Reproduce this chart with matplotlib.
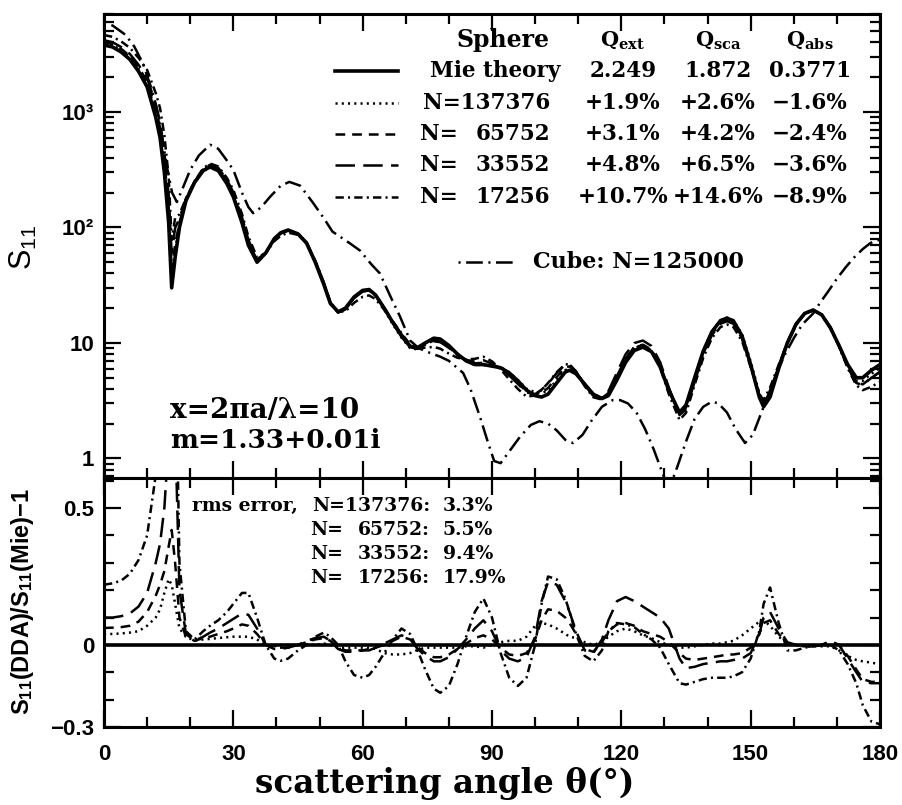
import numpy as np
import matplotlib.pyplot as plt
from matplotlib.lines import Line2D
from matplotlib.ticker import FixedLocator, MultipleLocator, LogLocator, NullFormatter

plt.rcParams['font.family'] = 'DejaVu Serif'
plt.rcParams['mathtext.fontset'] = 'dejavuserif'
plt.rcParams['lines.scale_dashes'] = False

# common angle grid (degrees) for Mie and the DDA relative errors
theta = [0, 2, 4, 6, 8, 10, 12, 13, 14, 15,
         15.7, 16.5, 17.5, 19, 21, 23, 24.6, 26.5, 28.5, 30,
         32, 33.5, 35.5, 37.5, 39.5, 41, 42.7, 45, 47, 49,
         51, 52.5, 54.3, 56, 58, 60, 61.5, 63, 65, 67,
         69, 71, 72.5, 74.5, 76.5, 78, 80, 82, 84, 86,
         88, 90, 92, 94, 96, 98, 100, 101.5, 103, 105,
         107, 108, 109.5, 111.5, 113.5, 115.5, 117, 119, 121, 123,
         125, 127, 129, 131, 133.5, 135, 137, 139, 141, 143,
         144.5, 146, 148, 150, 152, 153, 154.5, 156.5, 158.5, 160.5,
         162.5, 164.5, 166.5, 168.5, 170.5, 172.5, 174.5, 176, 178, 180]

s11_mie = [3800, 3650, 3300, 2850, 2250, 1650, 900, 600, 300, 110,
           30, 55, 100, 170, 245, 310, 334, 310, 240, 184,
           110, 70, 50, 60, 80, 90, 95, 88, 73, 50,
           32, 22, 18.6, 20, 25, 28.5, 29, 26, 20, 15,
           11.5, 9.3, 9, 10, 11, 10.8, 9.5, 8, 7, 6.5,
           6.5, 6.3, 6.1, 5.5, 4.7, 3.9, 3.5, 3.4, 3.6, 4.5,
           5.6, 5.8, 5.4, 4.4, 3.6, 3.3, 3.5, 4.8, 6.8, 8.6,
           9.2, 8.4, 6.2, 3.9, 2.5, 2.9, 5.0, 8.5, 12.5, 15.6,
           16.4, 15.5, 11.5, 6.5, 3.4, 2.8, 3.4, 6.0, 10, 14.5,
           18, 19.3, 17.5, 13.5, 9.5, 6.5, 5.0, 5.0, 5.8, 6.5]

# S11(DDA)/S11(Mie) - 1
err_137376 = [0.04, 0.04, 0.042, 0.045, 0.05, 0.07, 0.10, 0.13, 0.19, 0.24,
              0.22, 0.15, 0.06, 0.03, 0.015, 0.02, 0.022, 0.025, 0.028, 0.03,
              0.03, 0.03, 0.02, 0.0, -0.005, 0.0, 0.0, 0.0, 0.0, 0.0,
              0.005, 0.0, -0.01, -0.01, -0.01, -0.01, -0.01, -0.015, -0.03, -0.035,
              -0.035, -0.03, -0.02, -0.01, -0.01, -0.01, -0.01, -0.01, -0.005, -0.005,
              -0.01, 0.0, 0.01, 0.015, 0.015, 0.03, 0.07, 0.08, 0.075, 0.06,
              0.04, 0.03, 0.025, 0.01, 0.0, 0.01, 0.03, 0.05, 0.06, 0.05,
              0.035, 0.025, 0.01, 0.0, -0.01, -0.01, -0.005, 0.0, 0.005, 0.005,
              0.01, 0.015, 0.035, 0.06, 0.085, 0.09, 0.07, 0.03, 0.005, 0.0,
              -0.005, -0.005, -0.005, -0.005, -0.02, -0.04, -0.055, -0.06, -0.065, -0.07]

err_65752 = [0.062, 0.063, 0.065, 0.07, 0.085, 0.12, 0.18, 0.22, 0.27, 0.36,
             0.42, 0.3, 0.1, 0.03, 0.015, 0.025, 0.03, 0.04, 0.05, 0.06,
             0.075, 0.07, 0.04, 0.0, -0.01, -0.01, -0.01, 0.0, 0.01, 0.02,
             0.025, 0.015, -0.01, -0.02, -0.02, -0.02, -0.015, -0.01, 0.0, 0.015,
             0.03, 0.02, -0.005, -0.03, -0.045, -0.045, -0.035, -0.015, 0.005, 0.025,
             0.035, 0.02, -0.01, -0.035, -0.04, -0.03, 0.02, 0.09, 0.13, 0.125,
             0.1, 0.08, 0.04, -0.015, -0.025, 0.01, 0.05, 0.075, 0.08, 0.07,
             0.05, 0.04, 0.03, 0.01, -0.03, -0.05, -0.055, -0.05, -0.045, -0.04,
             -0.035, -0.035, -0.03, -0.01, 0.04, 0.08, 0.09, 0.04, 0.005, 0.0,
             -0.005, -0.005, 0.0, 0.01, 0.0, -0.04, -0.09, -0.125, -0.135, -0.135]

err_33552 = [0.10, 0.10, 0.105, 0.115, 0.14, 0.19, 0.30, 0.37, 0.50, 0.75,
             1.0, 0.8, 0.2, 0.04, 0.015, 0.03, 0.045, 0.06, 0.08, 0.095,
             0.115, 0.11, 0.06, 0.0, -0.015, -0.015, -0.01, 0.0, 0.015, 0.025,
             0.03, 0.015, -0.015, -0.025, -0.025, -0.02, -0.02, -0.01, 0.005, 0.02,
             0.035, 0.025, -0.01, -0.04, -0.06, -0.06, -0.045, -0.015, 0.02, 0.06,
             0.09, 0.05, -0.02, -0.05, -0.06, -0.045, 0.03, 0.16, 0.23, 0.22,
             0.16, 0.12, 0.05, -0.02, -0.03, 0.02, 0.09, 0.16, 0.175, 0.16,
             0.14, 0.12, 0.10, 0.06, -0.05, -0.085, -0.08, -0.07, -0.065, -0.06,
             -0.06, -0.055, -0.05, -0.03, 0.04, 0.1, 0.12, 0.06, 0.01, 0.0,
             -0.005, -0.005, 0.0, 0.015, 0.0, -0.05, -0.1, -0.135, -0.14, -0.14]

err_17256 = [0.22, 0.225, 0.235, 0.26, 0.31, 0.40, 0.62, 0.8, 1.1, 1.5,
             1.6, 1.2, 0.3, 0.05, 0.02, 0.05, 0.07, 0.09, 0.12, 0.15,
             0.19, 0.19, 0.1, 0.0, -0.05, -0.058, -0.05, -0.02, 0.0, 0.03,
             0.045, 0.03, 0.0, -0.06, -0.11, -0.12, -0.11, -0.08, -0.03, 0.02,
             0.06, 0.04, -0.01, -0.09, -0.16, -0.175, -0.15, -0.07, 0.03, 0.12,
             0.17, 0.1, -0.03, -0.12, -0.15, -0.12, 0.0, 0.15, 0.25, 0.24,
             0.17, 0.12, 0.04, -0.04, -0.06, -0.02, 0.05, 0.08, 0.075, 0.065,
             0.04, 0.02, -0.01, -0.07, -0.14, -0.145, -0.135, -0.125, -0.12, -0.12,
             -0.12, -0.115, -0.1, -0.05, 0.05, 0.15, 0.21, 0.08, -0.02, -0.02,
             -0.01, -0.005, 0.0, 0.0, -0.02, -0.07, -0.14, -0.22, -0.28, -0.29]

theta_cube = [0, 2, 5, 7, 9, 11, 12.3, 13.5, 14.6, 15.8,
              16.9, 18.5, 20, 22, 24.6, 26.5, 28.5, 30, 32, 33.5,
              34.6, 36.5, 38.5, 41, 43, 45.5, 48.5, 51, 53, 55,
              57, 59.4, 62, 64, 66.5, 68.7, 71, 73, 75.6, 78,
              80, 83.3, 85, 87.2, 89, 90.5, 92, 94, 96.5, 99,
              101, 103, 105, 107, 108.8, 111, 113, 115.5, 118, 119.7,
              121.5, 123.5, 125.5, 127.5, 129, 130.5, 131.5, 133, 135, 137,
              139, 141, 142.5, 144.5, 146.5, 148.7, 150.5, 152.5, 154.5, 156,
              158, 160, 162, 164.5, 166, 168, 170, 172, 174, 176,
              177.7, 179, 180]
s11_cube = [5900, 5600, 4650, 3700, 2650, 1600, 1040, 600, 334, 200,
            166, 230, 315, 420, 520, 480, 380, 315, 200, 150,
            133, 150, 184, 230, 248, 230, 163, 120, 92, 82,
            73, 63, 48, 40, 25, 16.8, 10.5, 9, 8.2, 7.6,
            7, 5.5, 4, 2.3, 1.4, 0.95, 0.91, 1.15, 1.54, 1.95,
            2.1, 2.0, 1.75, 1.45, 1.36, 1.6, 2.1, 2.8, 3.2, 3.2,
            3.0, 2.5, 1.8, 1.2, 0.85, 0.6, 0.6, 0.85, 1.4, 2.2,
            2.8, 3.1, 3.0, 2.5, 1.8, 1.36, 1.6, 2.5, 3.9, 5.5,
            8, 11, 14.5, 18, 22, 28, 36, 45, 55, 65,
            73, 77, 78]

n_dipoles = ['137376', '65752', '33552', '17256']
q_mie = ['2.249', '1.872', '0.3771']
q_ext = ['+1.9%', '+3.1%', '+4.8%', '+10.7%']
q_sca = ['+2.6%', '+4.2%', '+6.5%', '+14.6%']
q_abs = ['\u22121.6%', '\u22122.4%', '\u22123.6%', '\u22128.9%']
rms_err = ['3.3%', '5.5%', '9.4%', '17.9%']

errs = [err_137376, err_65752, err_33552, err_17256]
styles = [(0, (1.5, 3)), (0, (7, 5)), (0, (14, 6)), (0, (6, 3, 1.5, 3))]
cube_style = (0, (1.5, 4, 12, 4))

W, H = 902, 805
fig = plt.figure(figsize=(W / 100, H / 100), dpi=100)


def fx(px):
    return px / W


def fy(py):
    return 1 - py / H


ax1 = fig.add_axes([fx(104), fy(478), fx(880) - fx(104), fy(14) - fy(478)])
ax2 = fig.add_axes([fx(104), fy(727), fx(880) - fx(104), fy(478) - fy(727)])

th = np.array(theta)
mie = np.array(s11_mie)

# top panel
for e, ls in zip(errs, styles):
    ax1.plot(th, mie * (1 + np.array(e)), color='black', lw=1.8, ls=ls)
ax1.plot(theta_cube, s11_cube, color='black', lw=1.8, ls=cube_style)
ax1.plot(th, mie, color='black', lw=2.6)
ax1.set_yscale('log')
ax1.set_xlim(0, 180)
ax1.set_ylim(0.677, 7050)
ax1.yaxis.set_major_locator(FixedLocator([1, 10, 100, 1000]))
ax1.yaxis.set_minor_locator(LogLocator(base=10, subs=range(2, 10)))
ax1.yaxis.set_minor_formatter(NullFormatter())
ax1.set_yticklabels(['1', '10', '10\u00b2', '10\u00b3'])
ax1.tick_params(labelbottom=False)

# bottom panel
for e, ls in zip(errs, styles):
    ax2.plot(th, e, color='black', lw=1.8, ls=ls)
ax2.axhline(0, color='black', lw=2.6)
ax2.set_xlim(0, 180)
ax2.set_ylim(-0.3, 0.61)
ax2.yaxis.set_major_locator(FixedLocator([-0.3, 0, 0.5]))
ax2.yaxis.set_minor_locator(MultipleLocator(0.1))
ax2.set_yticklabels(['\u22120.3', '0', '0.5'])

for ax in (ax1, ax2):
    ax.xaxis.set_major_locator(MultipleLocator(30))
    ax.xaxis.set_minor_locator(MultipleLocator(10))
    ax.tick_params(which='both', direction='in', top=True, right=True, width=1.6)
    ax.tick_params(which='major', length=12, pad=7)
    ax.tick_params(which='minor', length=7)
    ax.tick_params(axis='x', pad=12)
    for s in ax.spines.values():
        s.set_linewidth(2.2)
    for lbl in ax.get_xticklabels() + ax.get_yticklabels():
        lbl.set_fontfamily('Liberation Sans')
        lbl.set_fontweight('bold')
        lbl.set_fontsize(16)

# axis labels
fig.text(fx(23), fy(247), r'$\mathregular{S_{11}}$', rotation=90, ha='center', va='center',
         fontsize=22, family='Liberation Sans')
fig.text(fx(23), fy(602), r'$\mathregular{S_{11}(DDA)/S_{11}(Mie)}$' + '\u22121', rotation=90,
         ha='center', va='center', fontsize=17, family='Liberation Sans', fontweight='bold')
fig.text(fx(445), fy(783), 'scattering angle \u03b8(\u00b0)', ha='center', va='center',
         fontsize=23.5, fontweight='bold')

# size parameter and refractive index
fig.text(fx(170), fy(410), 'x=2\u03c0a/\u03bb=10', ha='left', va='center', fontsize=20, fontweight='bold')
fig.text(fx(170), fy(441), 'm=1.33+0.01i', ha='left', va='center', fontsize=19, fontweight='bold')

# legend table
rows_y = [71, 103, 134, 165, 197]
col_x = [623, 718, 810]
fig.text(fx(503), fy(40), 'Sphere', ha='center', va='center', fontsize=17, fontweight='bold')
for cx, q in zip(col_x, ['ext', 'sca', 'abs']):
    fig.text(fx(cx), fy(40), r'$\mathbf{Q}_{\mathbf{%s}}$' % q, ha='center', va='center', fontsize=15)

fig.add_artist(Line2D([fx(335), fx(398)], [fy(rows_y[0])] * 2, color='black', lw=2.6))
fig.text(fx(430), fy(rows_y[0]), 'Mie theory', ha='left', va='center', fontsize=15.5, fontweight='bold')
for cx, v in zip(col_x, q_mie):
    fig.text(fx(cx), fy(rows_y[0]), v, ha='center', va='center', fontsize=15.5, fontweight='bold')

for i in range(4):
    y = rows_y[i + 1]
    fig.add_artist(Line2D([fx(335), fx(398)], [fy(y)] * 2, color='black', lw=1.8, ls=styles[i]))
    if i == 0:
        fig.text(fx(550), fy(y), 'N=' + n_dipoles[i], ha='right', va='center', fontsize=15.5,
                 fontweight='bold')
    else:
        fig.text(fx(420), fy(y), 'N=', ha='left', va='center', fontsize=15.5, fontweight='bold')
        fig.text(fx(550), fy(y), n_dipoles[i], ha='right', va='center', fontsize=15.5, fontweight='bold')
    for cx, v in zip(col_x, [q_ext[i], q_sca[i], q_abs[i]]):
        fig.text(fx(cx), fy(y), v, ha='center', va='center', fontsize=15.5, fontweight='bold')

fig.add_artist(Line2D([fx(458), fx(517)], [fy(262)] * 2, color='black', lw=1.8, ls=cube_style))
fig.text(fx(533), fy(262), 'Cube: N=125000', ha='left', va='center', fontsize=16, fontweight='bold')

# rms errors
rms_y = [506, 530, 554, 578]
fig.text(fx(298), fy(rms_y[0]), 'rms error,', ha='right', va='center', fontsize=13.5, fontweight='bold')
for i, (y, n, r) in enumerate(zip(rms_y, n_dipoles, rms_err)):
    if i == 0:
        fig.text(fx(430), fy(y), 'N=' + n + ':', ha='right', va='center', fontsize=13.5,
                 fontweight='bold')
    else:
        fig.text(fx(310), fy(y), 'N=', ha='left', va='center', fontsize=13.5, fontweight='bold')
        fig.text(fx(430), fy(y), n + ':', ha='right', va='center', fontsize=13.5, fontweight='bold')
    fig.text(fx(443), fy(y), r, ha='left', va='center', fontsize=13.5, fontweight='bold')

fig.savefig('out.png', dpi=100)
